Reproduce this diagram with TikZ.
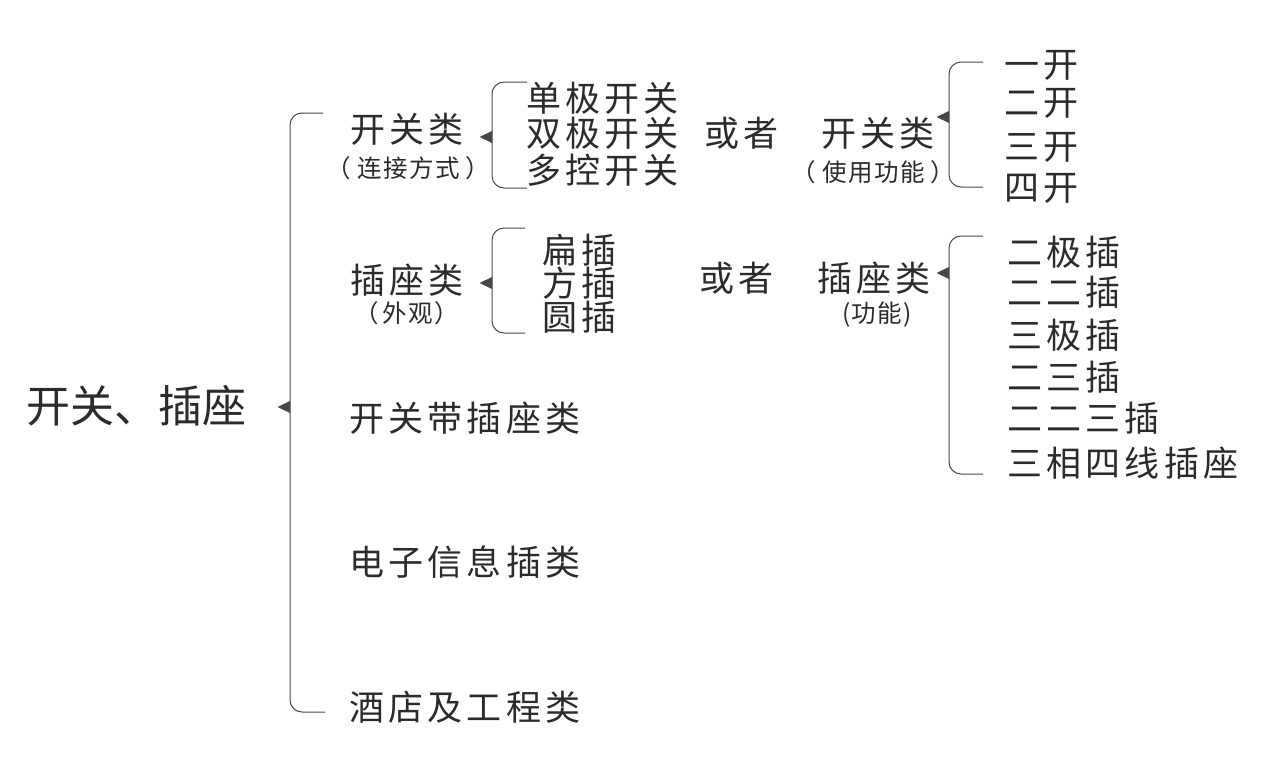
\documentclass[tikz,border=0pt]{standalone}
\usepackage{fontspec}
\newfontfamily\cjk{Noto Sans CJK SC}
\newfontfamily\cjksp[LetterSpace=12]{Noto Sans CJK SC}
\newfontfamily\cjksub[LetterSpace=6]{Noto Sans CJK SC}
\definecolor{ink}{HTML}{2B2B2B}
\definecolor{linec}{HTML}{474747}
\newcommand{\pgap}[1]{\hspace*{#1}}
\tikzset{
  lab/.style={inner sep=0pt, text=ink, font={\cjksp\fontsize{35}{35}\selectfont}},
  item/.style={lab, anchor=west},
  sublab/.style={inner sep=0pt, text=ink, font={\cjksub\fontsize{24.5}{24.5}\selectfont}},
  titlelab/.style={inner sep=0pt, text=ink, anchor=west, font={\cjk\fontsize{44}{44}\selectfont}},
  brk/.style={draw=linec, line width=1pt, rounded corners=12pt},
  tri/.style={fill=linec, draw=none},
}
\begin{document}
\begin{tikzpicture}[x=1pt,y=-1pt]
\useasboundingbox[fill=white] (0,0) rectangle (1280,766);

% title
\node[titlelab] (title) at (26,406) {开关、插座};

% main bracket
\coordinate (b0t) at (323,113);
\coordinate (b0m) at (290,407);
\coordinate (b0b) at (325,712);
\draw[brk] (b0t) -| (b0m) |- (b0b);
\fill[tri] (b0m) ++(0,-6) -- ++(-12.5,6) -- ++(12.5,6) -- cycle;

% level 1 labels
\node[lab] (kg) at (407,129) {开关类};
\node[sublab] (kgs) at (408,168) {（\pgap{7pt}连接方式\pgap{5pt}）};
\node[lab] (cz) at (407,280) {插座类};
\node[sublab] (czs) at (407,313) {（\pgap{3pt}外观\pgap{2pt}）};
\node[item] (kgcz) at (349,418) {开关带插座类};
\node[item] (dz) at (349,562) {电子信息插类};
\node[item] (jd) at (349,707) {酒店及工程类};

% bracket 1
\coordinate (b1t) at (527,82);
\coordinate (b1m) at (492,137);
\coordinate (b1b) at (527,188);
\draw[brk] (b1t) -| (b1m) |- (b1b);
\fill[tri] (b1m) ++(0,-6) -- ++(-12.5,6) -- ++(12.5,6) -- cycle;
\node[item] (a1) at (526,98) {单极开关};
\node[item] (a2) at (526,133) {双极开关};
\node[item] (a3) at (526,170) {多控开关};

\node[item] (or1) at (704,133) {或者};

% switch by function
\node[lab] (kg2) at (878,133) {开关类};
\node[sublab] (kg2s) at (873,172) {（\pgap{7pt}使用功能\pgap{5pt}）};
\coordinate (b3t) at (983,62);
\coordinate (b3m) at (949,117);
\coordinate (b3b) at (983,187);
\draw[brk] (b3t) -| (b3m) |- (b3b);
\fill[tri] (b3m) ++(0,-6) -- ++(-12.5,6) -- ++(12.5,6) -- cycle;
\node[item] (c1) at (1004,65) {一开};
\node[item] (c2) at (1004,103) {二开};
\node[item] (c3) at (1004,147) {三开};
\node[item] (c4) at (1004,188) {四开};

% bracket 2
\coordinate (b2t) at (525,228);
\coordinate (b2m) at (492,283);
\coordinate (b2b) at (525,333);
\draw[brk] (b2t) -| (b2m) |- (b2b);
\fill[tri] (b2m) ++(0,-6) -- ++(-12.5,6) -- ++(12.5,6) -- cycle;
\node[item] (d1) at (542,250) {扁插};
\node[item] (d2) at (542,283) {方插};
\node[item] (d3) at (542,317) {圆插};

\node[item] (or2) at (699,278) {或者};

% socket by function
\node[lab] (cz2) at (874,278) {插座类};
\node[sublab] (cz2s) at (877,315) {(功能)};
\coordinate (b4t) at (983,236);
\coordinate (b4m) at (949,273);
\coordinate (b4b) at (983,474);
\draw[brk] (b4t) -| (b4m) |- (b4b);
\fill[tri] (b4m) ++(0,-6) -- ++(-12.5,6) -- ++(12.5,6) -- cycle;
\node[item] (e1) at (1007,252) {二极插};
\node[item] (e2) at (1007,292) {二二插};
\node[item] (e3) at (1007,335) {三极插};
\node[item] (e4) at (1007,377) {二三插};
\node[item] (e5) at (1007,418) {二二三插};
\node[item] (e6) at (1007,463) {三相四线插座};
\end{tikzpicture}
\end{document}
